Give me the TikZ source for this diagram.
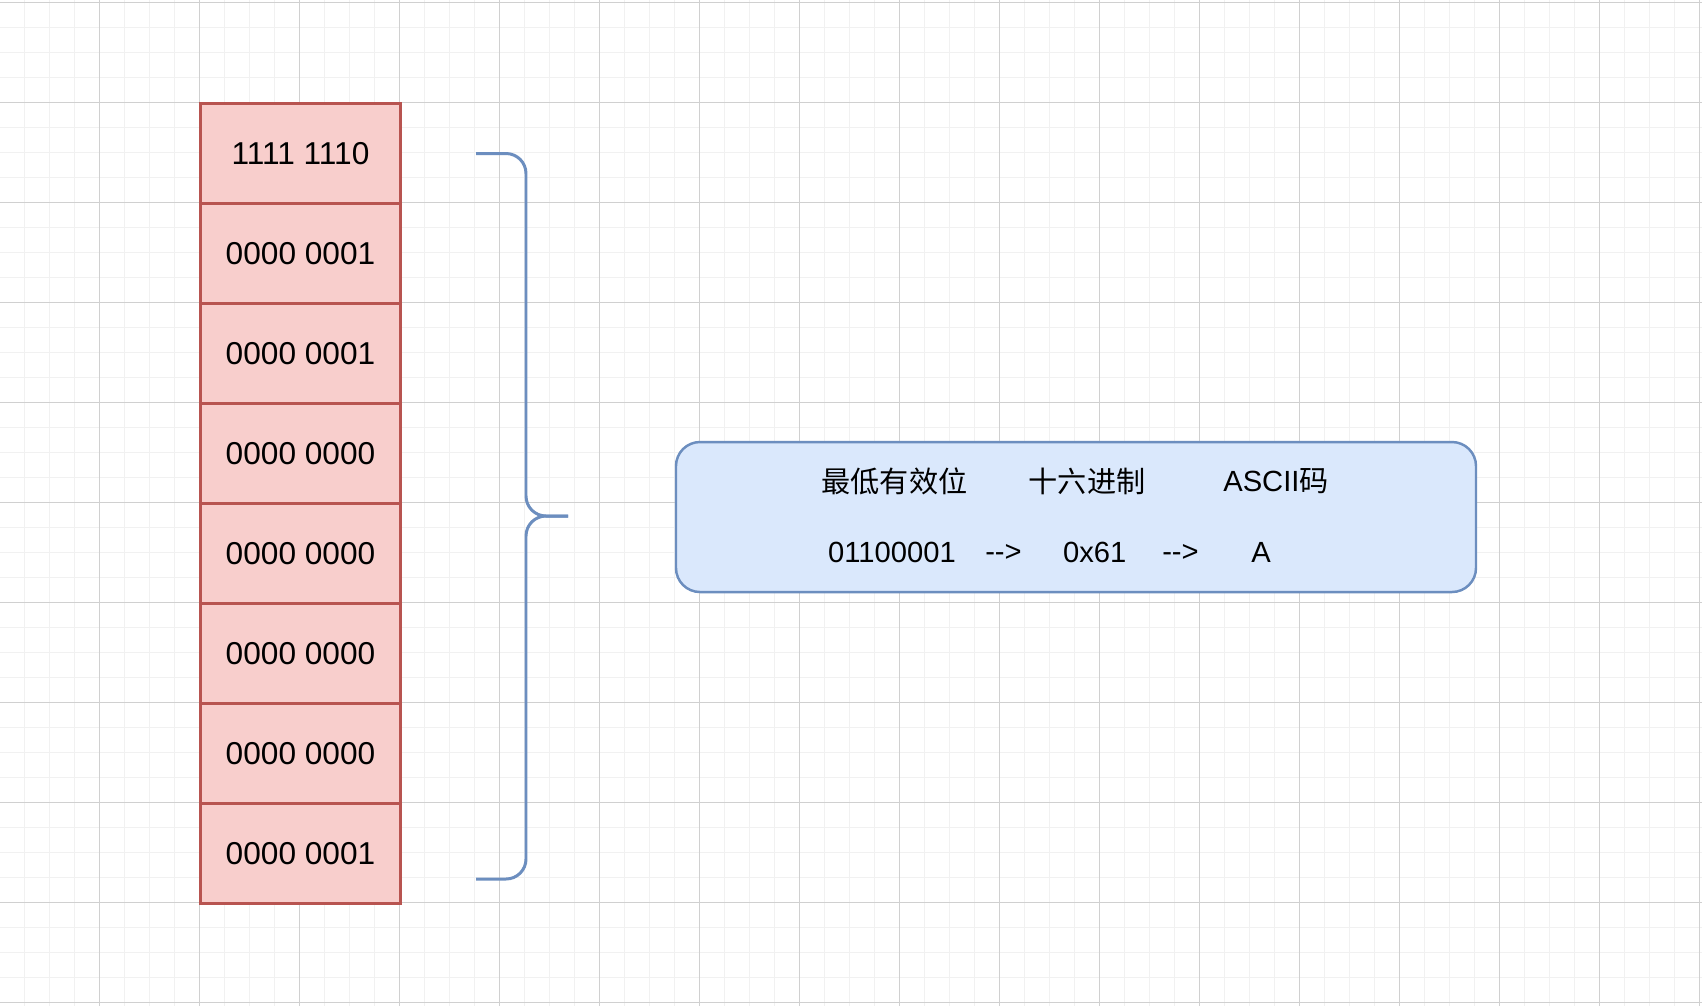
\documentclass[tikz,border=0pt]{standalone}
\usepackage{fontspec}
\setmainfont{Liberation Sans}
\newfontfamily\cjk{Noto Sans CJK SC}
\definecolor{cellfill}{HTML}{F8CECC}
\definecolor{celldraw}{HTML}{B85450}
\definecolor{notefill}{HTML}{DAE8FC}
\definecolor{notedraw}{HTML}{6C8EBF}
\definecolor{gridmajor}{HTML}{D0D0D0}
\definecolor{gridminor}{HTML}{F1F1F1}
\begin{document}
\begin{tikzpicture}[
  x=1cm,y=-1cm,
  minorline/.style={draw=gridminor,line width=.45pt},
  majorline/.style={draw=gridmajor,line width=.45pt},
  cell/.style={rectangle,draw=celldraw,fill=cellfill,line width=.85pt,
    minimum width=2cm,minimum height=1cm,inner sep=0pt,
    font=\fontsize{9}{11}\selectfont},
  note/.style={rectangle,rounded corners=.24cm,draw=notedraw,fill=notefill,
    line width=.7pt,minimum width=8cm,minimum height=1.5cm},
  notetext/.style={inner sep=0pt,font=\fontsize{8.3}{10}\selectfont},
  brace/.style={draw=notedraw,line width=.85pt,rounded corners=.2cm}]
  \fill[white] (0,0) rectangle (17.02,10.06);
  \useasboundingbox (0,0) rectangle (17.02,10.06);

  % background grid: fine lines every quarter, strong lines every unit
  \foreach \k in {0,...,68}
    \draw[minorline] ({-0.005+0.25*\k},0) -- ({-0.005+0.25*\k},10.06);
  \foreach \k in {0,...,40}
    \draw[minorline] (0,{0.025+0.25*\k}) -- (17.02,{0.025+0.25*\k});
  \foreach \k in {1,...,17}
    \draw[majorline] ({\k-0.005},0) -- ({\k-0.005},10.06);
  \foreach \k in {0,...,10}
    \draw[majorline] (0,{\k+0.025}) -- (17.02,{\k+0.025});

  % the eight bytes, top to bottom
  \foreach \v [count=\i] in {1111 1110,0000 0001,0000 0001,0000 0000,
      0000 0000,0000 0000,0000 0000,0000 0001}
    \node[cell] (cell\i) at (3.005,{0.535+\i}) {\v};

  % curly brace over the column
  \draw[brace] (4.76,1.535) -- (5.26,1.535) -- (5.26,5.16) -- (5.68,5.16);
  \draw[brace] (5.68,5.16) -- (5.26,5.16) -- (5.26,8.79) -- (4.76,8.79);

  % note box with its two rows
  \node[note] (note) at (10.76,5.17) {};
  \node[notetext] (lsb) at (8.945,4.81) {\cjk 最低有效位};
  \node[notetext] (hex) at (10.87,4.81) {\cjk 十六进制};
  \node[notetext] (ascii) at (12.76,4.81) {ASCII{\cjk 码}};
  \node[notetext] (bits) at (8.92,5.525) {01100001};
  \node[notetext] (arrowa) at (10.035,5.525) {-{}->};
  \node[notetext] (hexval) at (10.947,5.525) {0x61};
  \node[notetext] (arrowb) at (11.805,5.525) {-{}->};
  \node[notetext] (char) at (12.61,5.525) {A};
\end{tikzpicture}
\end{document}
